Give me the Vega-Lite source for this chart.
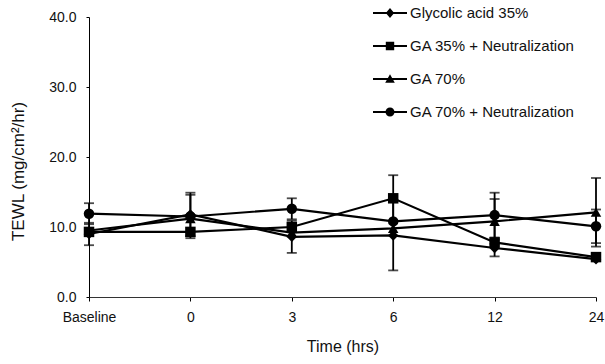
{
  "$schema": "https://vega.github.io/schema/vega-lite/v6.json",
  "autosize": "none",
  "width": 507,
  "height": 280,
  "padding": {"left": 89, "top": 17, "right": 9, "bottom": 67},
  "background": "white",
  "config": {
    "view": {"stroke": null},
    "font": "Liberation Sans",
    "axis": {"grid": false, "domainColor": "#000", "tickColor": "#000", "labelColor": "#111", "titleColor": "#111", "labelFont": "Liberation Sans", "titleFont": "Liberation Sans", "titleFontWeight": "normal"}
  },
  "data": {
    "values": [
      {"series": "Glycolic acid 35%", "time": "Baseline", "mean": 9.0, "lo": 7.4, "hi": 10.6},
      {"series": "Glycolic acid 35%", "time": "0", "mean": 11.8, "lo": 8.7, "hi": 14.9},
      {"series": "Glycolic acid 35%", "time": "3", "mean": 8.6, "lo": 6.3, "hi": 10.9},
      {"series": "Glycolic acid 35%", "time": "6", "mean": 8.8, "lo": 3.8, "hi": 13.8},
      {"series": "Glycolic acid 35%", "time": "12", "mean": 7.0, "lo": 5.8, "hi": 8.2},
      {"series": "Glycolic acid 35%", "time": "24", "mean": 5.4},
      {"series": "GA 35% + Neutralization", "time": "Baseline", "mean": 9.3},
      {"series": "GA 35% + Neutralization", "time": "0", "mean": 9.3},
      {"series": "GA 35% + Neutralization", "time": "3", "mean": 10.0},
      {"series": "GA 35% + Neutralization", "time": "6", "mean": 14.1, "lo": 10.8, "hi": 17.4},
      {"series": "GA 35% + Neutralization", "time": "12", "mean": 7.8},
      {"series": "GA 35% + Neutralization", "time": "24", "mean": 5.7},
      {"series": "GA 70%", "time": "Baseline", "mean": 9.5},
      {"series": "GA 70%", "time": "0", "mean": 11.2},
      {"series": "GA 70%", "time": "3", "mean": 9.2},
      {"series": "GA 70%", "time": "6", "mean": 9.8},
      {"series": "GA 70%", "time": "12", "mean": 10.8, "lo": 7.6, "hi": 14.0},
      {"series": "GA 70%", "time": "24", "mean": 12.1, "lo": 7.2, "hi": 17.0},
      {"series": "GA 70% + Neutralization", "time": "Baseline", "mean": 11.9, "lo": 10.4, "hi": 13.4},
      {"series": "GA 70% + Neutralization", "time": "0", "mean": 11.5, "lo": 8.4, "hi": 14.6},
      {"series": "GA 70% + Neutralization", "time": "3", "mean": 12.6, "lo": 11.1, "hi": 14.1},
      {"series": "GA 70% + Neutralization", "time": "6", "mean": 10.8},
      {"series": "GA 70% + Neutralization", "time": "12", "mean": 11.7, "lo": 8.5, "hi": 14.9},
      {"series": "GA 70% + Neutralization", "time": "24", "mean": 10.1, "lo": 7.7, "hi": 12.5}
    ]
  },
  "encoding": {
    "x": {
      "field": "time", "type": "ordinal",
      "sort": ["Baseline", "0", "3", "6", "12", "24"],
      "scale": {"type": "point", "padding": 0, "domain": ["Baseline", "0", "3", "6", "12", "24"]},
      "axis": {"title": "Time (hrs)", "labelAngle": 0, "labelFontSize": 14, "titleFontSize": 16, "tickSize": 4, "labelPadding": 9, "titlePadding": 14, "domainColor": "#333"}
    }
  },
  "layer": [
    {
      "mark": {"type": "line", "color": "#000", "strokeWidth": 2.2},
      "encoding": {
        "y": {"field": "mean", "type": "quantitative", "scale": {"domain": [0, 40], "nice": false},
          "axis": {"title": "TEWL (mg/cm²/hr)", "values": [0, 10, 20, 30, 40], "format": ".1f", "labelFontSize": 14, "titleFontSize": 17, "tickSize": 3, "labelPadding": 10, "titleX": -62, "titleY": 154}},
        "detail": {"field": "series"}
      }
    },
    {
      "transform": [{"filter": "isValid(datum.lo)"}],
      "mark": {"type": "rule", "color": "#000", "strokeWidth": 1.8},
      "encoding": {"y": {"field": "lo", "type": "quantitative"}, "y2": {"field": "hi"}}
    },
    {
      "transform": [{"filter": "isValid(datum.lo)"}],
      "mark": {"type": "tick", "color": "#000", "size": 10, "thickness": 1.8, "orient": "horizontal"},
      "encoding": {"y": {"field": "lo", "type": "quantitative"}}
    },
    {
      "transform": [{"filter": "isValid(datum.hi)"}],
      "mark": {"type": "tick", "color": "#000", "size": 10, "thickness": 1.8, "orient": "horizontal"},
      "encoding": {"y": {"field": "hi", "type": "quantitative"}}
    },
    {
      "mark": {"type": "point", "filled": true, "color": "#000", "opacity": 1, "size": 110},
      "encoding": {
        "y": {"field": "mean", "type": "quantitative"},
        "shape": {"field": "series", "type": "nominal",
          "scale": {"domain": ["Glycolic acid 35%", "GA 35% + Neutralization", "GA 70%", "GA 70% + Neutralization"], "range": ["diamond", "square", "triangle-up", "circle"]},
          "legend": null}
      }
    },
    {
      "transform": [{"filter": "false"}],
      "mark": {"type": "point", "filled": true, "color": "#000", "opacity": 1},
      "encoding": {
        "y": {"field": "mean", "type": "quantitative"},
        "shape": {"field": "series", "type": "nominal",
          "scale": {"domain": ["Glycolic acid 35%", "GA 35% + Neutralization", "GA 70%", "GA 70% + Neutralization"],
            "range": [
              "M-1.7,-0.11H1.7V0.11H-1.7Z M0,-0.5L0.42,0L0,0.5L-0.42,0Z",
              "M-1.7,-0.11H1.7V0.11H-1.7Z M-0.42,-0.42H0.42V0.42H-0.42Z",
              "M-1.7,-0.11H1.7V0.11H-1.7Z M0,-0.48L0.48,0.38H-0.48Z",
              "M-1.7,-0.11H1.7V0.11H-1.7Z M0.45,0A0.45,0.45,0,1,1,-0.45,0A0.45,0.45,0,1,1,0.45,0Z"
            ]},
          "legend": {"title": null, "orient": "none", "legendX": 291, "legendY": -14, "symbolSize": 400, "symbolFillColor": "#000", "symbolStrokeWidth": 0, "symbolOpacity": 1, "labelOffset": 10, "labelFontSize": 15, "labelColor": "#111", "labelFont": "Liberation Sans", "rowPadding": 15, "padding": 0, "labelLimit": 300}}
      }
    }
  ],
  "resolve": {"scale": {"shape": "independent"}, "legend": {"shape": "independent"}}
}
